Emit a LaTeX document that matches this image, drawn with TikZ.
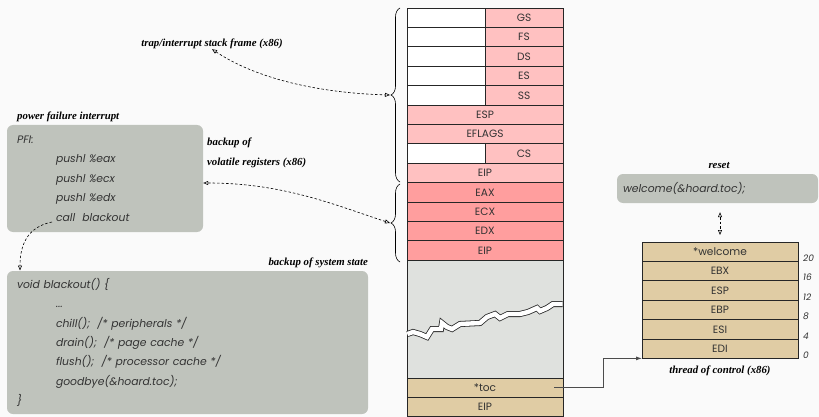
\documentclass[tikz,border=0pt]{standalone}
\usepackage{fontspec}
\setmainfont{Liberation Serif}
\newfontfamily\geofont{Poppins}
\usepackage{tikz}
\usetikzlibrary{arrows.meta,decorations.pathreplacing,positioning}
\definecolor{pagebg}{HTML}{FAFAFA}
\definecolor{segpink}{HTML}{FFC1C1}
\definecolor{savepink}{HTML}{FF9E9E}
\definecolor{hoardgray}{HTML}{DFE1DE}
\definecolor{toctan}{HTML}{E0CCA4}
\definecolor{codegray}{HTML}{BFC3BC}
\definecolor{inkgray}{HTML}{333333}
\tikzset{
  regcell/.style={draw=black!85,line width=.8pt,minimum width=156pt,minimum height=19.4pt,
    inner sep=0pt,outer sep=0pt,font=\geofont\fontsize{10.6pt}{12pt}\selectfont,text=inkgray},
  padcell/.style={regcell,minimum width=78pt,fill=white},
  segcell/.style={regcell,minimum width=78pt,fill=segpink},
  framecell/.style={regcell,fill=segpink},
  savecell/.style={regcell,fill=savepink},
  toccell/.style={regcell,fill=toctan},
  codebox/.style={fill=codegray,rounded corners=6pt,align=left,inner xsep=10pt,inner ysep=0pt,
    font=\geofont\itshape\fontsize{10.8pt}{19.4pt}\selectfont,text=inkgray},
  tag/.style={inner sep=0pt,font=\bfseries\itshape\fontsize{10.8pt}{19.4pt}\selectfont},
  offs/.style={inner sep=0pt,font=\geofont\itshape\fontsize{9pt}{11pt}\selectfont,text=inkgray},
  brace/.style={decorate,decoration={brace,amplitude=9pt},line width=.6pt},
  hint/.style={{Triangle[open,length=5pt,width=4pt]}-{Triangle[open,length=5pt,width=4pt]},
    dash pattern=on 2.5pt off 2pt,line width=.6pt},
  hintto/.style={hint,-{Triangle[open,length=5pt,width=4pt]}},
  ptr/.style={-{Latex[length=6pt,width=4pt]},draw=black!70,line width=.8pt},
  tear/.style={draw=black!85,line width=.8pt,double=white,double distance=4.4pt}
}
\begin{document}
\begin{tikzpicture}[x=1pt,y=-1pt]
  \fill[pagebg] (0,0) rectangle (819,417);
  \useasboundingbox (0,0) rectangle (819,417);

  % interrupt stack
  \node[padcell] (gspad) at (446,17.7) {};
  \node[segcell,right=0pt of gspad] (gs) {GS};
  \node[padcell,below=0pt of gspad] (fspad) {};
  \node[segcell,right=0pt of fspad] (fs) {FS};
  \node[padcell,below=0pt of fspad] (dspad) {};
  \node[segcell,right=0pt of dspad] (ds) {DS};
  \node[padcell,below=0pt of dspad] (espad) {};
  \node[segcell,right=0pt of espad] (es) {ES};
  \node[padcell,below=0pt of espad] (sspad) {};
  \node[segcell,right=0pt of sspad] (ss) {SS};
  \node[framecell,below=0pt of sspad.south east] (esp) {ESP};
  \node[framecell,below=0pt of esp] (eflags) {EFLAGS};
  \node[padcell,below right=0pt of eflags.south west] (cspad) {};
  \node[segcell,right=0pt of cspad] (cs) {CS};
  \node[framecell,below=0pt of cspad.south east] (eip) {EIP};
  \node[savecell,below=0pt of eip] (eax) {EAX};
  \node[savecell,below=0pt of eax] (ecx) {ECX};
  \node[savecell,below=0pt of ecx] (edx) {EDX};
  \node[savecell,below=0pt of edx] (eipsave) {EIP};
  \node[regcell,fill=hoardgray,minimum height=117.8pt,below=0pt of eipsave] (hoard) {};
  \node[toccell,below=0pt of hoard] (toc) {*toc};
  \node[toccell,below=0pt of toc] (eiptoc) {EIP};
  \draw[tear] (407.4,334) -- (413,332) -- (420,334) -- (427,337) -- (432,329) -- (441,329)
    -- (442,323) -- (447,327) -- (452,329) -- (460,324) -- (480,323) -- (487,317) -- (495,314)
    -- (500,318) -- (508,314) -- (520,314) -- (528,312) -- (537,308) -- (540,311) -- (547,308)
    -- (553,304) -- (562.6,304);

  \draw[brace] (400,182) -- (400,8);
  \draw[brace] (400,262) -- (400,184);
  \coordinate (frametip) at (390,95);
  \coordinate (savetip) at (390,223);

  % thread of control
  \node[toccell] (wel) at (720,251.7) {*welcome};
  \node[toccell,below=0pt of wel] (ebx) {EBX};
  \node[toccell,below=0pt of ebx] (espw) {ESP};
  \node[toccell,below=0pt of espw] (ebp) {EBP};
  \node[toccell,below=0pt of ebp] (esi) {ESI};
  \node[toccell,below=0pt of esi] (edi) {EDI};
  \node[offs,right=5pt of wel.south east,anchor=base west] (o20) {20};
  \node[offs,right=5pt of ebx.south east,anchor=base west] (o16) {16};
  \node[offs,right=5pt of espw.south east,anchor=base west] (o12) {12};
  \node[offs,right=5pt of ebp.south east,anchor=base west] (o8) {8};
  \node[offs,right=5pt of esi.south east,anchor=base west] (o4) {4};
  \node[offs,right=5pt of edi.south east,anchor=base west] (o0) {0};
  \node[tag] (thread) at (720,371) {thread of control (x86)};

  % code
  \node[codebox,text width=176pt,minimum height=107pt] (pfi) at (105,178.5) {PFI:\\
    \hspace*{39pt}pushl \%eax\\
    \hspace*{39pt}pushl \%ecx\\
    \hspace*{39pt}pushl \%edx\\
    \hspace*{39pt}call~ blackout};
  \node[tag,anchor=west] (pfitag) at (17,117) {power failure interrupt};
  \node[tag,align=left,anchor=north west] (volatile) at (207,138) {backup of\\volatile registers (x86)};
  \node[codebox,text width=341pt,minimum height=143pt] (blackout) at (187.5,342.5) {void blackout() \{\\
    \hspace*{39pt}...\\
    \hspace*{39pt}chill();~ /* peripherals */\\
    \hspace*{39pt}drain();~ /* page cache */\\
    \hspace*{39pt}flush();~ /* processor cache */\\
    \hspace*{39pt}goodbye(\&hoard.toc);\\
    \}};
  \node[tag,anchor=east] (systag) at (368,263) {backup of system state};
  \node[codebox,text width=189pt,inner xsep=6pt,minimum height=29pt] (reset) at (717.5,188.5) {welcome(\&hoard.toc);};
  \node[tag] (resettag) at (719,166) {reset};
  \node[tag] (trap) at (212,44) {trap/interrupt stack frame (x86)};
  \coordinate (callpt) at (52,222);

  \draw[hint] (trap.south) .. controls +(45,30) and +(-70,-2) .. (frametip);
  \draw[hint] ([yshift=-4.5pt]pfi.east) .. controls +(80,0) and +(-55,-18) .. (savetip);
  \draw[hintto] (callpt) .. controls +(-25,5) and +(0,-25) .. (20,270.5);
  \draw[hint,shorten <=9pt,shorten >=7pt] (wel.north |- reset.south) -- (wel.north);
  \draw[ptr] ([xshift=-9pt]toc.east) -- ++(49pt,0) |- (edi.south west);
\end{tikzpicture}
\end{document}
